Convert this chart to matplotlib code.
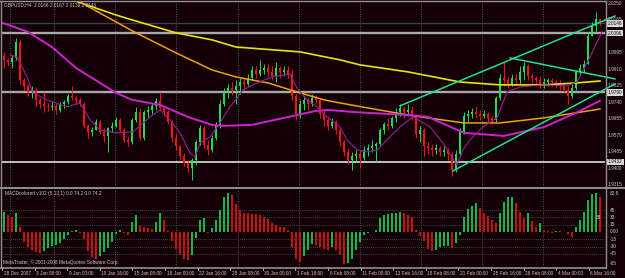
import numpy as np
import matplotlib
matplotlib.use("Agg")
import matplotlib.pyplot as plt
import matplotlib.transforms as mtransforms

# ---------------- data ----------------
first_open = 1.9978
close = [1.9958, 1.9947, 1.9968, 2.0050, 1.9855, 1.9824, 1.9793, 1.9803, 1.9752, 1.9731,
         1.9721, 1.9716, 1.9721, 1.9700, 1.9731, 1.9741, 1.9772, 1.9762, 1.9752, 1.9731,
         1.9618, 1.9587, 1.9597, 1.9638, 1.9587, 1.9566, 1.9607, 1.9618, 1.9649, 1.9597,
         1.9546, 1.9535, 1.9649, 1.9690, 1.9556, 1.9690, 1.9700, 1.9721, 1.9747, 1.9710,
         1.9690, 1.9638, 1.9556, 1.9515, 1.9463, 1.9427, 1.9401, 1.9443, 1.9535, 1.9607,
         1.9520, 1.9494, 1.9556, 1.9623, 1.9731, 1.9793, 1.9813, 1.9803, 1.9824, 1.9844,
         1.9834, 1.9865, 1.9906, 1.9885, 1.9906, 1.9916, 1.9896, 1.9875, 1.9916, 1.9896,
         1.9906, 1.9885, 1.9772, 1.9679, 1.9731, 1.9752, 1.9731, 1.9762, 1.9752, 1.9679,
         1.9649, 1.9618, 1.9638, 1.9597, 1.9535, 1.9484, 1.9443, 1.9463, 1.9473, 1.9453,
         1.9494, 1.9504, 1.9515, 1.9525, 1.9597, 1.9628, 1.9618, 1.9659, 1.9690, 1.9710,
         1.9690, 1.9700, 1.9669, 1.9576, 1.9597, 1.9515, 1.9504, 1.9494, 1.9504, 1.9484,
         1.9494, 1.9473, 1.9391, 1.9473, 1.9587, 1.9669, 1.9679, 1.9690, 1.9679, 1.9669,
         1.9679, 1.9659, 1.9649, 1.9762, 1.9865, 1.9855, 1.9834, 1.9865, 1.9855, 1.9896,
         1.9927, 1.9875, 1.9865, 1.9855, 1.9834, 1.9844, 1.9855, 1.9844, 1.9834, 1.9824,
         1.9803, 1.9772, 1.9813, 1.9896, 1.9916, 1.9937, 2.0081, 2.0133, 2.0166, 2.0146]
high = [1.9999, 1.9968, 1.9983, 2.0071, 2.0061, 1.9865, 1.9834, 1.9824, 1.9813, 1.9762,
        1.9793, 1.9736, 1.9741, 1.9736, 1.9741, 1.9752, 1.9782, 1.9824, 1.9772, 1.9762,
        1.9741, 1.9628, 1.9612, 1.9654, 1.9649, 1.9607, 1.9612, 1.9638, 1.9664, 1.9659,
        1.9607, 1.9566, 1.9659, 1.9715, 1.9710, 1.9700, 1.9721, 1.9736, 1.9762, 1.9793,
        1.9721, 1.9700, 1.9649, 1.9576, 1.9520, 1.9478, 1.9443, 1.9453, 1.9546, 1.9623,
        1.9618, 1.9546, 1.9571, 1.9638, 1.9752, 1.9813, 1.9834, 1.9844, 1.9855, 1.9865,
        1.9865, 1.9885, 1.9927, 1.9927, 1.9958, 1.9937, 1.9937, 1.9927, 1.9947, 1.9927,
        1.9927, 1.9927, 1.9906, 1.9782, 1.9752, 1.9772, 1.9762, 1.9782, 1.9777, 1.9762,
        1.9700, 1.9669, 1.9659, 1.9649, 1.9607, 1.9546, 1.9504, 1.9484, 1.9494, 1.9494,
        1.9515, 1.9525, 1.9546, 1.9535, 1.9607, 1.9638, 1.9659, 1.9669, 1.9710, 1.9731,
        1.9721, 1.9731, 1.9721, 1.9679, 1.9618, 1.9607, 1.9535, 1.9525, 1.9525, 1.9515,
        1.9515, 1.9504, 1.9484, 1.9494, 1.9607, 1.9690, 1.9700, 1.9710, 1.9721, 1.9700,
        1.9700, 1.9690, 1.9669, 1.9772, 1.9885, 1.9947, 1.9875, 1.9885, 1.9885, 1.9927,
        1.9947, 1.9937, 1.9885, 1.9875, 1.9875, 1.9865, 1.9865, 1.9865, 1.9855, 1.9855,
        1.9834, 1.9824, 1.9834, 1.9906, 1.9937, 1.9958, 2.0102, 2.0153, 2.0205, 2.0167]
low = [1.9916, 1.9927, 1.9916, 1.9958, 1.9834, 1.9803, 1.9772, 1.9762, 1.9721, 1.9710,
       1.9690, 1.9695, 1.9700, 1.9679, 1.9690, 1.9710, 1.9731, 1.9752, 1.9731, 1.9721,
       1.9607, 1.9556, 1.9566, 1.9597, 1.9576, 1.9535, 1.9484, 1.9587, 1.9612, 1.9587,
       1.9535, 1.9515, 1.9525, 1.9638, 1.9546, 1.9546, 1.9659, 1.9679, 1.9700, 1.9700,
       1.9669, 1.9628, 1.9535, 1.9494, 1.9443, 1.9412, 1.9381, 1.9340, 1.9417, 1.9520,
       1.9504, 1.9468, 1.9484, 1.9546, 1.9607, 1.9721, 1.9762, 1.9777, 1.9731, 1.9782,
       1.9803, 1.9824, 1.9855, 1.9865, 1.9875, 1.9885, 1.9875, 1.9855, 1.9844, 1.9865,
       1.9875, 1.9865, 1.9752, 1.9649, 1.9659, 1.9700, 1.9700, 1.9721, 1.9731, 1.9659,
       1.9618, 1.9597, 1.9607, 1.9576, 1.9515, 1.9463, 1.9422, 1.9391, 1.9432, 1.9401,
       1.9443, 1.9463, 1.9484, 1.9432, 1.9515, 1.9576, 1.9597, 1.9607, 1.9638, 1.9669,
       1.9659, 1.9669, 1.9649, 1.9556, 1.9535, 1.9463, 1.9473, 1.9463, 1.9473, 1.9463,
       1.9463, 1.9443, 1.9360, 1.9381, 1.9463, 1.9576, 1.9638, 1.9659, 1.9659, 1.9649,
       1.9659, 1.9638, 1.9628, 1.9638, 1.9752, 1.9824, 1.9813, 1.9824, 1.9834, 1.9834,
       1.9855, 1.9855, 1.9834, 1.9824, 1.9813, 1.9813, 1.9824, 1.9824, 1.9813, 1.9803,
       1.9793, 1.9731, 1.9762, 1.9803, 1.9885, 1.9896, 1.9937, 2.0081, 2.0102, 2.0139]

macd_hist = [41, 35, 30, 38, 10, -20, -30, -38, -42, -43,
             -40, -33, -29, -27, -22, -15, -6, 3, 4, -2,
             -15, -40, -52, -55, -50, -42, -33, -20, -5, 4,
             -3, -6, 20, 34, 12, 10, 8, 6, 20, 38,
             25, 2, -18, -35, -46, -55, -58, -48, -12, 25,
             28, -3, 8, 25, 45, 72, 80, 76, 58, 45,
             40, 38, 37, 36, 35, 30, 26, 18, 14, 11,
             10, 4, -30, -55, -62, -50, -38, -24, -27, -31,
             -35, -37, -31, -38, -47, -66, -64, -55, -38, -20,
             -7, -2, 1, 4, 28, 35, 37, 39, 40, 41,
             38, 35, 30, 5, -8, -18, -34, -39, -36, -31,
             -28, -28, -33, -22, -6, 30, 48, 53, 59, 50,
             40, 32, 24, 19, 40, 62, 71, 72, 60, 42,
             28, 38, 22, 10, 18, 4, 3, -2, 3, 2,
             1, -4, -11, 10, 24, 42, 65, 78, 80, 72]

# moving averages read at sample bars
yellow_bar = [14, 17, 28, 32, 43, 52, 58, 74, 84, 89, 101, 114, 124, 135, 143, 149]
yellow_val = [2.0287, 2.0267, 2.0189, 2.0164, 2.0097, 2.0061, 2.0024, 1.9999, 1.9958, 1.9932,
              1.9896, 1.9844, 1.9829, 1.9829, 1.9839, 1.9849]
orange_bar = [15, 18, 33, 43, 52, 58, 66, 74, 80, 84, 91, 101, 106, 115, 124, 135, 143, 149]
orange_val = [2.0292, 2.0267, 2.0097, 1.9994, 1.9906, 1.9870, 1.9839, 1.9788, 1.9752, 1.9736,
              1.9710, 1.9674, 1.9659, 1.9633, 1.9633, 1.9659, 1.9685, 1.9705]
magenta_bar = [-1, 6, 12, 18, 24, 28, 32, 39, 46, 52, 55, 62, 70, 78, 81, 87, 91, 101, 106,
               115, 125, 135, 143, 149]
magenta_val = [2.0153, 2.0102, 2.0024, 1.9916, 1.9839, 1.9788, 1.9752, 1.9726, 1.9664, 1.9623,
               1.9618, 1.9623, 1.9659, 1.9695, 1.9700, 1.9690, 1.9685, 1.9674, 1.9664,
               1.9582, 1.9566, 1.9612, 1.9685, 1.9747]
fast_bar = [1.5, 3.25, 5.75, 7.25, 10.75, 15.75, 19, 21.5, 24, 28.25, 32.25, 36.5, 39, 41.5,
            44, 46.5, 47.75, 49, 51.5, 54, 56.5, 58.5, 59.75, 63.25, 67, 71.5, 73.25, 75.75,
            78.25, 80.75, 84, 85.75, 88.25, 90.75, 93.25, 95.75, 99, 102.25, 106.5, 109.75,
            113.25, 114.75, 116.5, 119.75, 123.25, 125.75, 129, 134.75, 140.75, 143.25,
            146.5, 149.5]
fast_val = [1.9983, 1.9973, 1.9870, 1.9788, 1.9752, 1.9716, 1.9736, 1.9649, 1.9597, 1.9582,
            1.9587, 1.9664, 1.9700, 1.9649, 1.9582, 1.9479, 1.9458, 1.9530, 1.9561, 1.9633,
            1.9716, 1.9767, 1.9803, 1.9839, 1.9870, 1.9885, 1.9813, 1.9752, 1.9716, 1.9664,
            1.9613, 1.9546, 1.9494, 1.9484, 1.9494, 1.9546, 1.9613, 1.9664, 1.9613, 1.9530,
            1.9417, 1.9494, 1.9546, 1.9613, 1.9659, 1.9793, 1.9818, 1.9829, 1.9824, 1.9844,
            1.9973, 2.0102]

# trend lines (bar, price) end points
trend_upper = ([99, 152.75], [1.9721, 2.0184])
trend_lower = ([112.25, 152.75], [1.9386, 1.9834])
trend_tri = ([126.5, 152.75], [1.9968, 1.9860])

level_lines = [2.0096, 1.9790, 1.9432]
current_price = 2.0146
price_ticks = [2.0250, 2.0165, 1.9995, 1.9910, 1.9825, 1.9740, 1.9655, 1.9570, 1.9485, 1.9400, 1.9315]
macd_levels = [45, 30, 15, -15, -30, -45]
macd_tick_labels = ["45", "30", "15", "0.00", "-15", "-30", "-45"]
macd_tick_vals = [45, 30, 15, 0, -15, -30, -45]
week_bars = [1.5, 12.5, 27.75, 43, 58.5, 73.75, 89, 104.25, 119.5, 134.75]
time_labels = ["28 Dec 2007", "3 Jan 08:00", "9 Jan 00:00", "10 Jan 16:00", "15 Jan 08:00",
               "18 Jan 00:00", "22 Jan 16:00", "25 Jan 08:00", "30 Jan 00:00", "1 Feb 16:00",
               "6 Feb 08:00", "11 Feb 00:00", "13 Feb 16:00", "18 Feb 08:00", "21 Feb 00:00",
               "25 Feb 16:00", "28 Feb 08:00", "4 Mar 00:00", "6 Mar 16:00"]
title_text = "GBPUSD,H4  2.0166 2.0167 2.0139 2.0146"
macd_text = "MACDcolored v102 (5,13,1) 0.0 74.2 0.0 74.2"
copyright_text = "MetaTrader, \u00a9 2001-2008 MetaQuotes Software Corp."

# ---------------- style ----------------
W, H = 625, 278
BG = '#140007'
FG = '#c8c8c8'
GRID = '#4a5c5c'
UP = '#18e050'
DN = '#ff1010'
FONT = dict(family='Liberation Sans', fontsize=3.45, color=FG)

fig = plt.figure(figsize=(W / 100, H / 100), dpi=100)
fig.patch.set_facecolor(BG)

def fx(px):
    return px / W

def fy(py):
    return 1 - py / H

ax = fig.add_axes([fx(2), fy(187), fx(605) - fx(2), fy(2) - fy(187)])
axm = fig.add_axes([fx(2), fy(267), fx(605) - fx(2), fy(189) - fy(267)])

n = len(close)
idx = np.arange(n)
opens = np.array([first_open] + close[:-1])
close_a = np.array(close)

for a in (ax, axm):
    a.set_facecolor(BG)
    a.set_xlim(-0.5, 150.25)
    a.set_xticks([])
    a.set_yticks([])
    for s in a.spines.values():
        s.set_visible(False)

ax.set_ylim(1.9303, 2.0256)
axm.set_ylim(-71.9, 88.3)

# week grid
for wb in week_bars:
    ax.axvline(wb, color=GRID, lw=0.7, ls=(0, (1, 1.5)), zorder=1)
    axm.axvline(wb, color=GRID, lw=0.7, ls=(0, (1, 1.5)), zorder=1)

# level lines
ax.axhline(current_price, color='#34424e', lw=1.0, zorder=1)
ax.axhline(level_lines[0], color='#a8a8a8', lw=1.7, zorder=1)
ax.axhline(level_lines[1], color='#a8a8a8', lw=1.7, zorder=1)
ax.axhline(level_lines[2], color='#e0e0e0', lw=1.2, zorder=1)

# candles
up = close_a >= opens
cols = np.where(up, UP, DN)
ax.vlines(idx, low, high, colors=cols, lw=0.7, zorder=3)
body_lo = np.minimum(opens, close_a)
body_h = np.maximum(np.abs(close_a - opens), 0.00025)
ax.bar(idx, body_h, bottom=body_lo, width=0.5, color=cols, linewidth=0, zorder=3)

# moving averages
ax.plot(yellow_bar, yellow_val, color='#e6e600', lw=1.2, zorder=4)
ax.plot(orange_bar, orange_val, color='#f0a010', lw=1.1, zorder=4)
ax.plot(magenta_bar, magenta_val, color='#d020d0', lw=1.4, zorder=4)
ax.plot(fast_bar, fast_val, color='#9a1a9a', lw=0.8, zorder=5)

# trend lines
for tb, tv in (trend_upper, trend_lower, trend_tri):
    ax.plot(tb, tv, color='#20e090', lw=1.1, zorder=6, clip_on=False)

# price axis labels
tr = mtransforms.blended_transform_factory(ax.transAxes, ax.transData)
for p in price_ticks:
    ax.text(1.005, p, f"{p:.4f}", transform=tr, va='center', ha='left', clip_on=False, **FONT)
for p in [current_price] + level_lines:
    ax.text(1.005, p, f"{p:.4f}", transform=tr, va='center', ha='left', clip_on=False,
            family='Liberation Sans', fontsize=3.45, color='#101010',
            bbox=dict(boxstyle='square,pad=0.18', fc='#d8d8d8', ec='none'))

# MACD histogram
h = np.array(macd_hist, dtype=float)
prev = np.concatenate([[h[0]], h[:-1]])
hcol = np.where(h >= prev, '#10b84c', '#c81010')
axm.bar(idx, h, width=0.28, color=hcol, linewidth=0, zorder=3)
for lv in macd_levels:
    axm.axhline(lv, color=GRID, lw=0.6, ls=(0, (1, 1.5)), zorder=1)
trm = mtransforms.blended_transform_factory(axm.transAxes, axm.transData)
for lab, v in zip(macd_tick_labels, macd_tick_vals):
    axm.text(1.008, v, lab, transform=trm, va='center', ha='left', clip_on=False, **FONT)
axm.text(1.008, 0.98, "82.8", transform=axm.transAxes, va='top', ha='left', **FONT)
axm.text(1.008, 0.01, "-65", transform=axm.transAxes, va='bottom', ha='left', **FONT)
axm.text(0.994, 30, "38", transform=trm, va='center', ha='right', **FONT)

# texts
fig.text(fx(4), fy(5), title_text, va='center', ha='left', **FONT)
fig.text(fx(5), fy(194), macd_text, va='center', ha='left', **FONT)
fig.text(fx(3), fy(262), copyright_text, va='center', ha='left', **FONT)

# time axis labels
trx = mtransforms.blended_transform_factory(ax.transData, fig.transFigure)
for k, lab in enumerate(time_labels):
    xb = k * 8.15 - 0.5
    fig.add_artist(plt.Line2D([xb, xb], [fy(267), fy(270)], transform=trx, color=FG, lw=0.6))
    fig.text(xb + 0.4, fy(273.5), lab, transform=trx, va='center', ha='left', **FONT)

# borders
def hline(py, c, lw, x0=0, x1=W):
    fig.add_artist(plt.Line2D([fx(x0), fx(x1)], [fy(py), fy(py)], color=c, lw=lw))

def vline(px, c, lw, y0, y1):
    fig.add_artist(plt.Line2D([fx(px), fx(px)], [fy(y0), fy(y1)], color=c, lw=lw))

hline(1.2, '#909090', 1.0, 0, 606)
hline(187.5, '#909090', 1.4)
hline(267.5, '#909090', 1.2, 0, 606)
vline(1.0, '#909090', 1.0, 1, 268)
vline(605.5, '#909090', 1.0, 1, 268)

fig.savefig('out.png', dpi=100, facecolor=BG)
